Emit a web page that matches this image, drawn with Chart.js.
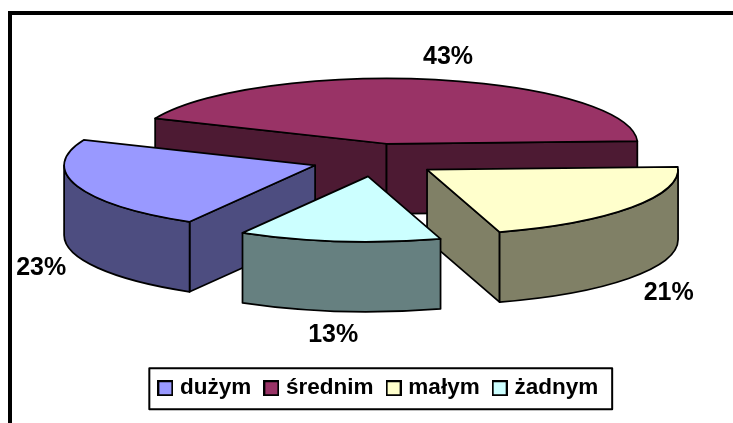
<!DOCTYPE html>
<html>
<head>
<meta charset="utf-8">
<style>
html, body { margin: 0; padding: 0; background: #fff; }
#wrap { position: relative; width: 733px; height: 423px; }
</style>
<script src="https://cdn.jsdelivr.net/npm/chart.js@4"></script>
</head>
<body>
<div id="wrap"><canvas id="pie"></canvas></div>
<script>
// dane z wykresu
const categories = ['dużym', 'średnim', 'małym', 'żadnym'];
const percents = [23, 43, 21, 13];
const topColors = ['#9999FF', '#993366', '#FFFFCC', '#CCFFFF'];
const wallColors = ['#4D4D80', '#4D1A33', '#808066', '#668080'];

const labelFont = 'bold 25px "Liberation Sans", Arial, sans-serif';
// przesuniecie podpisu wzgledem srodka zewnetrznej krawedzi wycinka
const labelNudge = [[-36, 12], [17, -22], [37, 16], [-6, 24]];

// geometria "3D": wyciagniecie wycinka, splaszczenie, grubosc
const explode = 63.5;
const radius = 251;
const squash = 0.26;
const depth = 70;
const pieX = 375.3;
const pieY = 160;

// rzutowanie punktu koła na ekran
function project(arc, ang, r) {
  const mid = (arc.startAngle + arc.endAngle) / 2;
  return {
    x: pieX + Math.cos(mid) * explode + Math.cos(ang) * r,
    y: pieY + (Math.sin(mid) * explode + Math.sin(ang) * r) * squash
  };
}

function drawFace(ctx, a, b, fill) {
  ctx.beginPath();
  ctx.moveTo(a.x, a.y);
  ctx.lineTo(b.x, b.y);
  ctx.lineTo(b.x, b.y + depth);
  ctx.lineTo(a.x, a.y + depth);
  ctx.closePath();
  ctx.fillStyle = fill;
  ctx.fill();
  ctx.stroke();
}

function drawSlice(chart, arc, i) {
  const ctx = chart.ctx;
  const c = project(arc, 0, 0);
  const start = arc.startAngle;
  const end = arc.endAngle;
  const pStart = project(arc, start, radius);
  const pEnd = project(arc, end, radius);
  const rx = radius;
  const ry = radius * squash;

  ctx.strokeStyle = '#000';
  ctx.lineWidth = 1.75;
  ctx.lineJoin = 'round';

  // sciany przy promieniach, tylko te zwrocone do widza
  if (Math.sin(start - Math.PI / 2) > 0) drawFace(ctx, c, pStart, wallColors[i]);
  if (Math.sin(end + Math.PI / 2) > 0) drawFace(ctx, c, pEnd, wallColors[i]);

  // sciana zewnetrzna: tylko przednia polowa elipsy
  const two = Math.PI * 2;
  const wrap = Math.floor(start / two) * two;
  [[start - wrap, end - wrap], [start - wrap - two, end - wrap - two]].forEach(([s, e]) => {
    const from = Math.max(s, 0);
    const to = Math.min(e, Math.PI);
    if (to <= from) return;
    ctx.beginPath();
    ctx.ellipse(c.x, c.y, rx, ry, 0, from, to);
    ctx.ellipse(c.x, c.y + depth, rx, ry, 0, to, from, true);
    ctx.closePath();
    ctx.fillStyle = wallColors[i];
    ctx.fill();
    ctx.stroke();
  });

  // wierzch rysuje sam Chart.js, splaszczony transformacja
  ctx.save();
  ctx.translate(c.x, c.y);
  ctx.scale(1, squash);
  ctx.translate(-arc.x, -arc.y);
  arc.draw(ctx);
  ctx.restore();

  // obrys wierzchu
  ctx.beginPath();
  ctx.moveTo(c.x, c.y);
  ctx.lineTo(pStart.x, pStart.y);
  ctx.ellipse(c.x, c.y, rx, ry, 0, start, end);
  ctx.closePath();
  ctx.stroke();
}

const pie3d = {
  id: 'pie3d',
  beforeDatasetsDraw(chart) {
    const arcs = chart.getDatasetMeta(0).data;
    const depthOf = a => Math.sin((arcs[a].startAngle + arcs[a].endAngle) / 2);
    const order = arcs.map((a, i) => i).sort((m, n) => depthOf(m) - depthOf(n));
    order.forEach(i => drawSlice(chart, arcs[i], i));

    // podpisy procentowe
    const ctx = chart.ctx;
    ctx.save();
    ctx.font = labelFont;
    ctx.fillStyle = '#000';
    ctx.textAlign = 'center';
    ctx.textBaseline = 'middle';
    arcs.forEach((arc, i) => {
      const mid = (arc.startAngle + arc.endAngle) / 2;
      const tip = project(arc, mid, radius);
      const base = Math.sin(mid) > 0 ? depth : 0;
      ctx.fillText(percents[i] + '%', tip.x + labelNudge[i][0], tip.y + base + labelNudge[i][1]);
    });
    ctx.restore();
    return false; // reszte juz narysowano
  },
  beforeDraw(chart) {
    // ramka wykresu: gora i lewa strona
    const ctx = chart.ctx;
    ctx.save();
    ctx.fillStyle = '#000';
    ctx.fillRect(8, 11, 725, 4);
    ctx.fillRect(8, 11, 4, 412);
    ctx.restore();
  },
  afterDraw(chart) {
    // ramka legendy
    const boxes = chart.legend.legendHitBoxes;
    const first = boxes[0];
    const last = boxes[boxes.length - 1];
    const ctx = chart.ctx;
    ctx.save();
    ctx.strokeStyle = '#000';
    ctx.lineWidth = 2;
    ctx.strokeRect(first.left - 12.5, first.top + first.height / 2 - 20, last.left + last.width - first.left + 26.5, 41);
    ctx.restore();
  }
};

// kwadraciki legendy
function swatch(color) {
  const c = document.createElement('canvas');
  c.width = 16;
  c.height = 16;
  const x = c.getContext('2d');
  x.fillStyle = color;
  x.fillRect(1, 1, 14, 14);
  x.strokeStyle = '#000';
  x.lineWidth = 2;
  x.strokeRect(1, 1, 14, 14);
  return c;
}

new Chart(document.getElementById('pie'), {
  type: 'pie',
  data: {
    labels: categories,
    datasets: [{
      data: percents,
      backgroundColor: topColors,
      borderWidth: 0
    }]
  },
  options: {
    responsive: true,
    maintainAspectRatio: false,
    animation: false,
    events: [],
    rotation: 210,
    radius: radius,
    layout: { padding: { left: 27, bottom: 13.5 } },
    plugins: {
      tooltip: { enabled: false },
      legend: {
        position: 'bottom',
        labels: {
          usePointStyle: true,
          pointStyleWidth: 7,
          boxHeight: 15,
          padding: 16.5,
          color: '#000',
          font: { family: '"Liberation Sans", Arial, sans-serif', size: 22.5, weight: 'bold' },
          generateLabels() {
            return categories.map((name, i) => ({
              text: name,
              pointStyle: swatch(topColors[i]),
              fillStyle: topColors[i],
              strokeStyle: '#000',
              lineWidth: 0,
              index: i
            }));
          }
        }
      }
    }
  },
  plugins: [pie3d]
});
</script>
</body>
</html>
